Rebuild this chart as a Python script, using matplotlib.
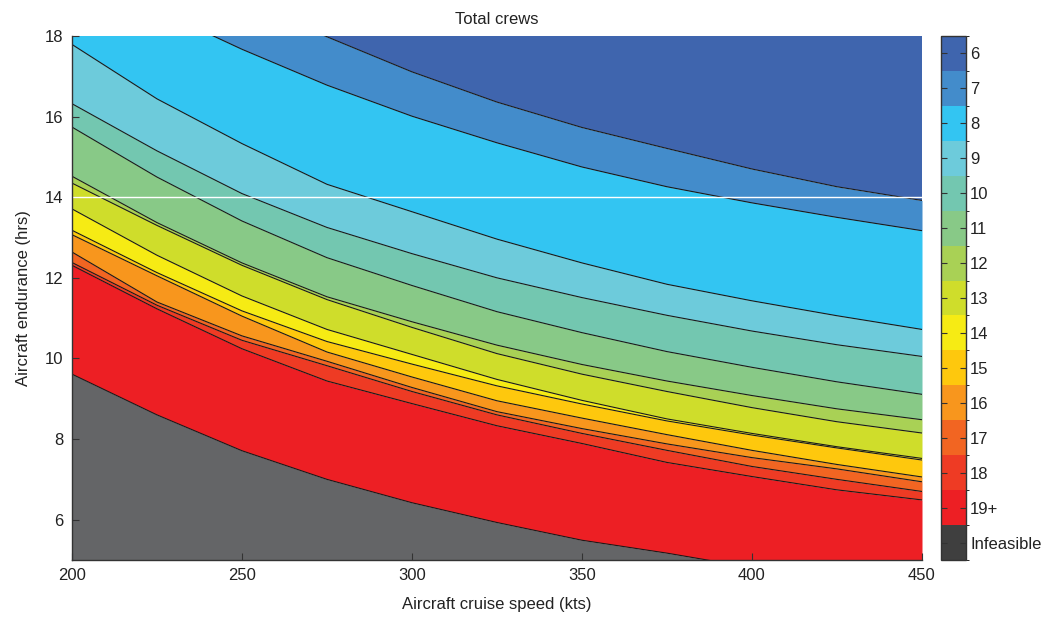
import matplotlib
matplotlib.use('Agg')
import matplotlib.pyplot as plt
from matplotlib.colors import ListedColormap, BoundaryNorm
from matplotlib.cm import ScalarMappable

plt.rcParams['font.family'] = ['Liberation Sans', 'DejaVu Sans']

# cruise speeds (kts) where the contour boundaries were read
speed = [200, 225, 250, 275, 300, 325, 350, 375, 400, 425, 450]

# endurance (hrs) where the crew count changes, top to bottom
b6_7 = [20.9, 19.85, 18.9, 17.98, 17.11, 16.36, 15.73, 15.21, 14.70, 14.26, 13.92]
b7_8 = [19.7, 18.65, 17.67, 16.78, 16.01, 15.35, 14.75, 14.26, 13.86, 13.50, 13.17]
b8_9 = [17.79, 16.44, 15.33, 14.32, 13.64, 12.96, 12.37, 11.84, 11.43, 11.06, 10.72]
b9_10 = [16.32, 15.15, 14.09, 13.25, 12.60, 12.00, 11.51, 11.07, 10.68, 10.34, 10.05]
b10_11 = [15.74, 14.50, 13.41, 12.50, 11.81, 11.16, 10.64, 10.17, 9.78, 9.42, 9.11]
b11_12 = [14.52, 13.37, 12.37, 11.53, 10.91, 10.33, 9.85, 9.44, 9.08, 8.75, 8.48]
b12_13 = [14.35, 13.30, 12.31, 11.46, 10.77, 10.12, 9.61, 9.18, 8.78, 8.43, 8.15]
b13_14 = [13.71, 12.56, 11.55, 10.72, 10.10, 9.48, 8.96, 8.50, 8.14, 7.81, 7.52]
b14_15 = [13.18, 12.13, 11.18, 10.42, 9.86, 9.32, 8.87, 8.45, 8.10, 7.78, 7.48]
b15_16 = [13.07, 12.05, 11.05, 10.16, 9.54, 8.95, 8.52, 8.11, 7.72, 7.37, 7.06]
b16_17 = [12.64, 11.40, 10.56, 9.93, 9.28, 8.68, 8.26, 7.88, 7.54, 7.26, 6.94]
b17_18 = [12.38, 11.32, 10.45, 9.82, 9.18, 8.60, 8.14, 7.72, 7.32, 7.00, 6.70]
b18_19 = [12.31, 11.23, 10.24, 9.44, 8.88, 8.33, 7.89, 7.42, 7.07, 6.74, 6.49]
b19_inf = [9.61, 8.60, 7.71, 7.00, 6.42, 5.93, 5.49, 5.17, 4.81, 4.53, 4.27]

boundaries = [b6_7, b7_8, b8_9, b9_10, b10_11, b11_12, b12_13, b13_14,
              b14_15, b15_16, b16_17, b17_18, b18_19, b19_inf]

crew_labels = ['6', '7', '8', '9', '10', '11', '12', '13', '14', '15',
               '16', '17', '18', '19+', 'Infeasible']
band_colors = ['#3f65ae', '#438ccb', '#33c5f2', '#6dcbdb', '#73c7b0', '#88c987',
               '#a9d155', '#cfdd2b', '#f6eb14', '#fec80d', '#f8961d', '#f26522',
               '#ee3b24', '#ed1f24', '#646567']
cbar_colors = band_colors[:-1] + ['#3f3f3f']

txt = '#222222'

fig = plt.figure(figsize=(10.47, 6.18), dpi=100)
ax = fig.add_axes([72 / 1047, 1 - 560 / 618, 850 / 1047, 524 / 618])

# bands: top of each band is the boundary above it
tops = [[30] * len(speed)] + boundaries
bots = boundaries + [[0] * len(speed)]
for top, bot, c in zip(tops, bots, band_colors):
    ax.fill_between(speed, bot, top, color=c, lw=0)

for b in boundaries:
    ax.plot(speed, b, color='#1a1a1a', lw=0.8)

ax.axhline(14, color='white', lw=1.0)

ax.set_xlim(200, 450)
ax.set_ylim(5, 18)
ax.set_xticks([200, 250, 300, 350, 400, 450])
ax.set_yticks([6, 8, 10, 12, 14, 16, 18])
ax.tick_params(direction='in', length=5, width=0.8, labelsize=12,
               colors='#333333', labelcolor=txt, pad=6)
for s in ['top', 'right']:
    ax.spines[s].set_visible(False)
for s in ['left', 'bottom']:
    ax.spines[s].set_color('#333333')
    ax.spines[s].set_linewidth(1.0)

ax.set_xlabel('Aircraft cruise speed (kts)', fontsize=12, color=txt, labelpad=10)
ax.set_ylabel('Aircraft endurance (hrs)', fontsize=12, color=txt, labelpad=10)
ax.set_title('Total crews', fontsize=12, color=txt, pad=9)

# colorbar, Infeasible at the bottom
cax = fig.add_axes([941 / 1047, 1 - 560 / 618, 25 / 1047, 524 / 618])
n = len(crew_labels)
cmap = ListedColormap(cbar_colors[::-1])
norm = BoundaryNorm(list(range(n + 1)), n)
cb = fig.colorbar(ScalarMappable(norm=norm, cmap=cmap), cax=cax)
cb.set_ticks([i + 0.5 for i in range(n)])
cb.set_ticklabels(crew_labels[::-1])
cax.tick_params(direction='in', length=4, width=0.8, left=True, right=True,
                labelsize=12, colors='#333333', labelcolor=txt, pad=3)
cb.outline.set_edgecolor('#333333')
cb.outline.set_linewidth(1.0)

fig.savefig('out.png', dpi=100)
